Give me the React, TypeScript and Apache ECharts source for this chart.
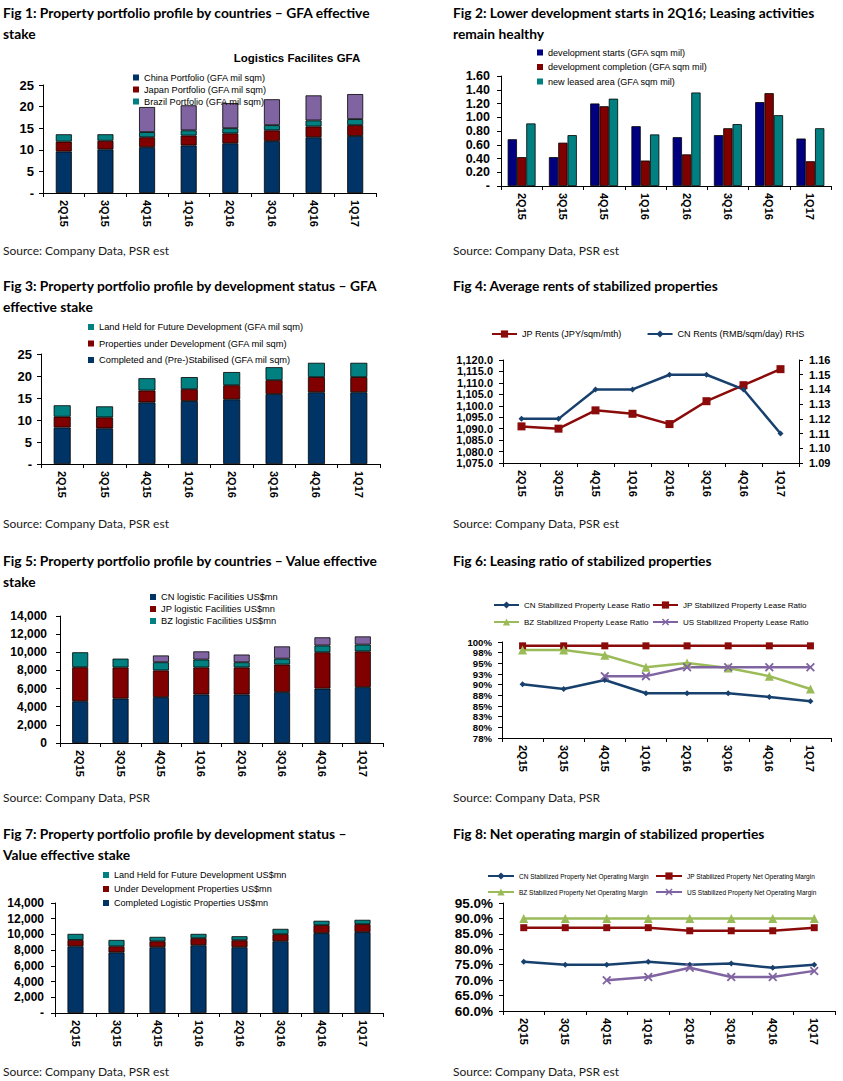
import React, { useEffect, useRef } from "react";
import * as echarts from "echarts";

const quarters = ["2Q15", "3Q15", "4Q15", "1Q16", "2Q16", "3Q16", "4Q16", "1Q17"];

// Fig 1 – GFA by country (mil sqm, segment values)
const f1China = [9.6, 10.1, 10.6, 11.0, 11.5, 12.0, 12.9, 13.2];
const f1Japan = [2.3, 2.0, 2.3, 2.3, 2.3, 2.5, 2.5, 2.5];
const f1Brazil = [1.7, 1.5, 1.2, 1.2, 1.2, 1.2, 1.4, 1.4];
const f1Other = [null, null, 5.8, 5.8, 5.8, 6.0, 5.8, 5.8];

// Fig 2 – development starts / completion / leased (GFA sqm mil)
const f2Starts = [0.68, 0.42, 1.2, 0.87, 0.71, 0.74, 1.22, 0.69];
const f2Completion = [0.42, 0.63, 1.16, 0.37, 0.46, 0.84, 1.35, 0.36];
const f2Leased = [0.91, 0.74, 1.27, 0.75, 1.36, 0.9, 1.03, 0.84];

// Fig 3 – GFA by development status (segment values)
const f3Completed = [8.3, 8.1, 14.0, 14.3, 14.7, 15.9, 16.3, 16.3];
const f3UnderDev = [2.45, 2.5, 2.7, 2.7, 3.2, 3.15, 3.45, 3.45];
const f3Land = [2.6, 2.5, 2.8, 2.75, 3.0, 2.95, 3.25, 3.25];

// Fig 4 – average rents
const f4JP = [1091, 1090, 1098, 1096.5, 1092, 1102, 1109, 1116];
const f4CN = [1.12, 1.12, 1.14, 1.14, 1.15, 1.15, 1.14, 1.11];

// Fig 5 – value by country (US$mn, segment values)
const f5CN = [4600, 4900, 5050, 5350, 5350, 5600, 6000, 6150];
const f5JP = [3750, 3430, 2950, 2980, 2980, 3050, 4000, 3950];
const f5BZ = [1650, 970, 900, 870, 570, 650, 750, 750];
const f5Other = [null, null, 750, 900, 850, 1350, 900, 900];

// Fig 6 – leasing ratio (%)
const f6CN = [90.1, 89.0, 91.1, 88.0, 88.0, 88.0, 87.1, 86.1];
const f6JP = [99.1, 99.1, 99.1, 99.1, 99.1, 99.1, 99.1, 99.1];
const f6BZ = [98.1, 98.1, 96.9, 94.1, 95.1, 93.9, 92.0, 89.0];
const f6US = [null, null, 92.0, 92.0, 94.1, 94.1, 94.1, 94.1];

// Fig 7 – value by development status (US$mn, segment values)
const f7Completed = [8490, 7720, 8370, 8620, 8370, 9130, 10160, 10290];
const f7UnderDev = [810, 770, 760, 900, 890, 900, 1020, 1020];
const f7Land = [770, 810, 560, 550, 510, 680, 560, 550];

// Fig 8 – net operating margin (%)
const f8CN = [76, 75, 75, 76, 75, 75.4, 74, 75];
const f8JP = [87, 87, 87, 87, 86, 86, 86, 87];
const f8BZ = [90, 90, 90, 90, 90, 90, 90, 90];
const f8US = [null, null, 70, 71, 74, 71, 71, 73];

const titles = [
  { lines: ["Fig 1: Property portfolio profile by countries – GFA effective", "stake"], x: 3, y: 12 },
  { lines: ["Fig 2: Lower development starts in 2Q16; Leasing activities", "remain healthy"], x: 453, y: 12 },
  { lines: ["Fig 3: Property portfolio profile by development status – GFA", "effective stake"], x: 3, y: 285 },
  { lines: ["Fig 4: Average rents of stabilized properties"], x: 453, y: 285 },
  { lines: ["Fig 5: Property portfolio profile by countries – Value effective", "stake"], x: 3, y: 560 },
  { lines: ["Fig 6: Leasing ratio of stabilized properties"], x: 453, y: 560 },
  { lines: ["Fig 7: Property portfolio profile by development status –", "Value effective stake"], x: 3, y: 833 },
  { lines: ["Fig 8: Net operating margin of stabilized properties"], x: 453, y: 833 },
];
const sources = [
  { text: "Source: Company Data, PSR est", x: 3, y: 250 },
  { text: "Source: Company Data, PSR est", x: 453, y: 250 },
  { text: "Source: Company Data, PSR est", x: 3, y: 523 },
  { text: "Source: Company Data, PSR est", x: 453, y: 523 },
  { text: "Source: Company Data, PSR", x: 3, y: 797 },
  { text: "Source: Company Data, PSR", x: 453, y: 797 },
  { text: "Source: Company Data, PSR est", x: 3, y: 1071 },
  { text: "Source: Company Data, PSR est", x: 453, y: 1071 },
];

const AX = "'Liberation Sans', Arial, sans-serif";
const TF = "Lato, 'Liberation Sans', sans-serif";
const NAVY = "#003366";
const MAROON = "#800000";
const TEAL = "#008080";
const PURPLE = "#8064A2";
const F2BLUE = "#000080";
const GREEN = "#9BBB59";
const LBLUE = "#17406D";
const LRED = "#8B0A0A";
const XSYM = "path://M0,1.4 L1.4,0 L5,3.6 L8.6,0 L10,1.4 L6.4,5 L10,8.6 L8.6,10 L5,6.4 L1.4,10 L0,8.6 L3.6,5 Z";

const dash = (f: (v: number) => string) => (v: number) => (Math.abs(v) < 1e-9 ? "-" : f(v));
const thousands = (v: number) => Math.round(v).toLocaleString("en-US");

function catAxis(grid: number, fontSize = 11) {
  return {
    type: "category",
    gridIndex: grid,
    data: quarters,
    boundaryGap: true,
    axisLine: { show: true, lineStyle: { color: "#000", width: 1 } },
    axisTick: { show: true, length: 4, lineStyle: { color: "#000" } },
    axisLabel: { rotate: -90, margin: 7, fontSize, fontWeight: "bold", fontFamily: AX, color: "#000", interval: 0 },
  };
}

function valAxis(grid: number, min: number, max: number, interval: number, fmt: any, fontSize: number, margin: number, position = "left") {
  return {
    type: "value",
    gridIndex: grid,
    min,
    max,
    interval,
    position,
    axisLine: { show: true, lineStyle: { color: "#000", width: 1 } },
    axisTick: { show: true, length: 4, lineStyle: { color: "#000" } },
    splitLine: { show: false },
    axisLabel: {
      formatter: fmt,
      margin,
      fontSize,
      lineHeight: fontSize,
      fontWeight: "bold",
      fontFamily: AX,
      color: "#000",
      showMinLabel: true,
      showMaxLabel: true,
      hideOverlap: false,
    },
  };
}

function bar(name: string, data: any[], color: string, idx: number, barWidth: number, stack?: string) {
  return {
    type: "bar",
    name,
    data,
    xAxisIndex: idx,
    yAxisIndex: idx,
    stack,
    barWidth,
    itemStyle: { color, borderColor: "#000", borderWidth: 0.8 },
    emphasis: { disabled: true },
  };
}

function line(name: string, data: any[], color: string, xi: number, yi: number, symbol: string, symbolSize: number, width = 2.5) {
  return {
    type: "line",
    name,
    data,
    xAxisIndex: xi,
    yAxisIndex: yi,
    symbol,
    symbolSize,
    connectNulls: false,
    lineStyle: { color, width },
    itemStyle: { color },
    emphasis: { disabled: true },
  };
}

function sqLegend(names: string[], left: number, top: number, pitch: number, fontSize = 9.2) {
  return {
    data: names,
    orient: "vertical",
    left,
    top,
    padding: 0,
    itemWidth: 6,
    itemHeight: 6,
    itemGap: pitch - 10,
    icon: "rect",
    selectedMode: false,
    itemStyle: { borderWidth: 0 },
    textStyle: { fontSize, fontFamily: AX, color: "#000", lineHeight: 10 },
  };
}

function lnLegend(names: string[], left: number, top: number, itemWidth: number, fontSize: number, itemGap = 10) {
  return {
    data: names,
    orient: "horizontal",
    left,
    top,
    padding: 0,
    itemWidth,
    itemHeight: 9,
    itemGap,
    selectedMode: false,
    textStyle: { fontSize, fontFamily: AX, color: "#000", lineHeight: 10 },
  };
}

function buildOption() {
  const grids = [
    { left: 43, top: 85, width: 333, height: 108 },
    { left: 501, top: 76, width: 330, height: 110 },
    { left: 41, top: 354, width: 339, height: 110 },
    { left: 503, top: 360, width: 296, height: 103 },
    { left: 60, top: 616, width: 323, height: 127 },
    { left: 502, top: 642, width: 329, height: 96 },
    { left: 55, top: 903, width: 328, height: 110 },
    { left: 503, top: 903, width: 332, height: 108 },
  ].map((g) => ({ ...g, containLabel: false, outerBoundsMode: "none" }));

  const xAxis = [0, 1, 2, 3, 4, 5, 6, 7].map((i) => catAxis(i, 11));

  const yAxis = [
    valAxis(0, 0, 25, 5, dash((v) => String(v)), 13, 9),
    valAxis(1, 0, 1.6, 0.2, dash((v) => v.toFixed(2)), 12.5, 11),
    valAxis(2, 0, 25, 5, dash((v) => String(v)), 13, 9),
    valAxis(3, 1075, 1120, 5, (v: number) => thousands(v) + ".0", 11, 10),
    valAxis(4, 0, 14000, 2000, (v: number) => thousands(v), 12, 13),
    valAxis(5, 77.5, 100, 2.5, (v: number) => Math.round(v) + "%", 9.6, 10),
    valAxis(6, 0, 14000, 2000, dash(thousands), 12, 11),
    valAxis(7, 60, 95, 5, (v: number) => v.toFixed(1) + "%", 13.5, 10),
    valAxis(3, 1.09, 1.16, 0.01, (v: number) => v.toFixed(2), 11, 10, "right"),
  ];

  const n1 = ["China Portfolio (GFA mil sqm)", "Japan Portfolio (GFA mil sqm)", "Brazil Portfolio (GFA mil sqm)"];
  const n2 = ["development starts (GFA sqm mil)", "development completion (GFA sqm mil)", "new leased area (GFA sqm mil)"];
  const n3 = ["Completed and (Pre-)Stabilised (GFA mil sqm)", "Properties under Development (GFA mil sqm)", "Land Held for Future Development (GFA mil sqm)"];
  const n4 = ["JP Rents (JPY/sqm/mth)", "CN Rents (RMB/sqm/day) RHS"];
  const n5 = ["CN logistic Facilities US$mn", "JP logistic Facilities US$mn", "BZ logistic Facilities US$mn"];
  const n6 = ["CN Stabilized Property Lease Ratio", "JP Stabilized Property Lease Ratio", "BZ Stabilized Property Lease Ratio", "US Stabilized Property Lease Ratio"];
  const n7 = ["Completed Logistic Properties US$mn", "Under Development Properties US$mn", "Land Held for Future Development US$mn"];
  const n8 = ["CN Stabilized Property Net Operating Margin", "JP Stabilized Property Net Operating Margin", "BZ Stabilized Property Net Operating Margin", "US Stabilized Property Net Operating Margin"];

  const series: any[] = [
    bar(n1[0], f1China, NAVY, 0, 16, "f1"),
    bar(n1[1], f1Japan, MAROON, 0, 16, "f1"),
    bar(n1[2], f1Brazil, TEAL, 0, 16, "f1"),
    bar("US Portfolio (GFA mil sqm)", f1Other, PURPLE, 0, 16, "f1"),

    { ...bar(n2[0], f2Starts, F2BLUE, 1, 9.3), barGap: "0%" },
    { ...bar(n2[1], f2Completion, MAROON, 1, 9.3), barGap: "0%" },
    { ...bar(n2[2], f2Leased, TEAL, 1, 9.3), barGap: "0%" },

    bar(n3[0], f3Completed, NAVY, 2, 17, "f3"),
    bar(n3[1], f3UnderDev, MAROON, 2, 17, "f3"),
    bar(n3[2], f3Land, TEAL, 2, 17, "f3"),

    line(n4[0], f4JP, LRED, 3, 3, "rect", 8, 2.5),
    line(n4[1], f4CN, LBLUE, 3, 8, "diamond", 6, 2.5),

    bar(n5[0], f5CN, NAVY, 4, 16, "f5"),
    bar(n5[1], f5JP, MAROON, 4, 16, "f5"),
    bar(n5[2], f5BZ, TEAL, 4, 16, "f5"),
    bar("US logistic Facilities US$mn", f5Other, PURPLE, 4, 16, "f5"),

    line(n6[0], f6CN, LBLUE, 5, 5, "diamond", 6, 2.5),
    line(n6[1], f6JP, LRED, 5, 5, "rect", 7, 2.5),
    line(n6[2], f6BZ, GREEN, 5, 5, "triangle", 9, 2.5),
    line(n6[3], f6US, PURPLE, 5, 5, XSYM, 9, 2.5),

    bar(n7[0], f7Completed, NAVY, 6, 16, "f7"),
    bar(n7[1], f7UnderDev, MAROON, 6, 16, "f7"),
    bar(n7[2], f7Land, TEAL, 6, 16, "f7"),

    line(n8[0], f8CN, LBLUE, 7, 7, "diamond", 6, 2.5),
    line(n8[1], f8JP, LRED, 7, 7, "rect", 7, 2.5),
    line(n8[2], f8BZ, GREEN, 7, 7, "triangle", 9, 2.5),
    line(n8[3], f8US, PURPLE, 7, 7, XSYM, 9, 2.5),
  ];

  const legend = [
    sqLegend(n1, 133, 72.5, 12),
    sqLegend(n2, 537, 47.5, 14.5, 9.1),
    sqLegend([n3[2], n3[1], n3[0]], 88, 322, 16.5, 9.3),
    lnLegend(n4, 491, 329, 25, 9.1, 25),
    sqLegend(n5, 150, 592, 12, 9.3),
    lnLegend([n6[0]], 493, 600, 25, 8),
    lnLegend([n6[1]], 652, 600, 25, 8),
    lnLegend([n6[2]], 493, 617, 25, 8),
    lnLegend([n6[3]], 652, 617, 25, 8),
    sqLegend([n7[2], n7[1], n7[0]], 103, 870, 14, 9.1),
    lnLegend([n8[0]], 487, 871, 26, 6.5),
    lnLegend([n8[1]], 655, 871, 26, 6.5),
    lnLegend([n8[2]], 487, 887, 26, 6.5),
    lnLegend([n8[3]], 655, 887, 26, 6.5),
  ];

  const graphic: any[] = [];
  titles.forEach((t) => {
    t.lines.forEach((ln, i) => {
      graphic.push({
        type: "text",
        x: t.x,
        y: t.y + i * 21,
        style: { text: ln, fill: "#000", fontSize: 13.8, fontWeight: "bold", fontFamily: TF, verticalAlign: "middle", align: "left" },
      });
    });
  });
  sources.forEach((s) => {
    graphic.push({
      type: "text",
      x: s.x,
      y: s.y,
      style: { text: s.text, fill: "#1a1a1a", fontSize: 12, fontFamily: TF, verticalAlign: "middle", align: "left" },
    });
  });
  graphic.push({
    type: "text",
    x: 297,
    y: 58,
    style: { text: "Logistics Facilites GFA", fill: "#000", fontSize: 11.5, fontWeight: "bold", fontFamily: AX, verticalAlign: "middle", align: "center" },
  });

  return {
    animation: false,
    backgroundColor: "#fff",
    grid: grids,
    xAxis,
    yAxis,
    legend,
    series,
    graphic,
    tooltip: { show: false },
  };
}

export default function App() {
  const ref = useRef<HTMLDivElement>(null);
  useEffect(() => {
    if (!ref.current) return;
    const chart = echarts.init(ref.current, null, { renderer: "svg" });
    chart.setOption(buildOption() as any);
    return () => chart.dispose();
  }, []);
  return <div ref={ref} style={{ position: "absolute", left: 0, top: 0, width: 843, height: 1081, background: "#fff" }} />;
}
